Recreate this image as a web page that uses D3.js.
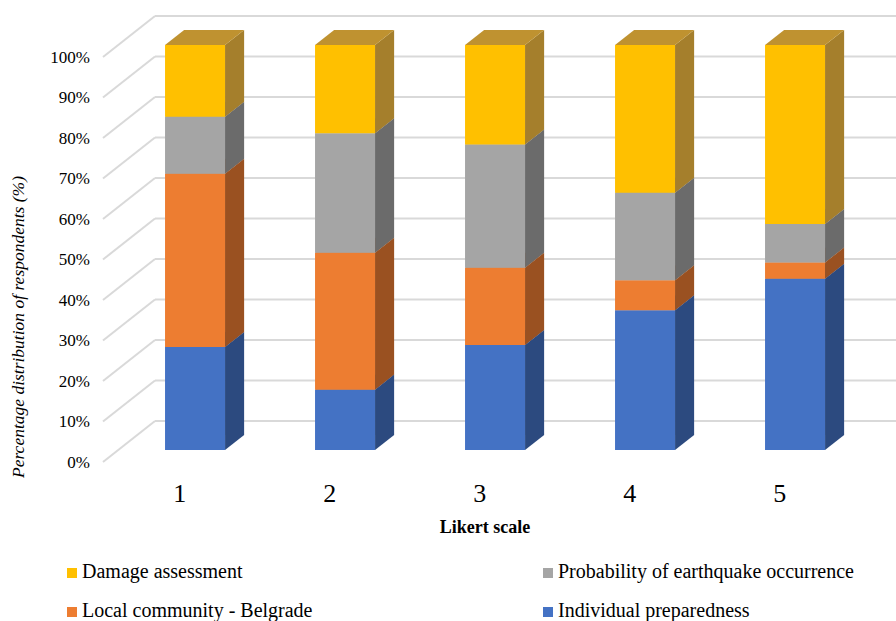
<!DOCTYPE html>
<html>
<head>
<meta charset="utf-8">
<style>
  body { margin: 0; background: #fff; }
  text { font-family: "Liberation Serif", "Times New Roman", serif; fill: #000; }
</style>
</head>
<body>
<svg width="896" height="621"></svg>
<script src="https://cdn.jsdelivr.net/npm/d3@7"></script>
<script>
// data (percent of respondents per Likert level)
const categories = ["1", "2", "3", "4", "5"];
const seriesNames = ["Individual preparedness", "Local community - Belgrade", "Probability of earthquake occurrence", "Damage assessment"];
const individual = [25.4, 14.9, 25.9, 34.5, 42.3];
const localCommunity = [42.8, 33.8, 19.1, 7.4, 4.0];
const probability = [14.1, 29.5, 30.4, 21.6, 9.5];
const damage = [17.7, 21.8, 24.6, 36.5, 44.2];
const yTicks = [0, 10, 20, 30, 40, 50, 60, 70, 80, 90, 100];

const colors = {
  "Individual preparedness": { front: "#4472C4", side: "#2C4A7F", top: "#3A62A8" },
  "Local community - Belgrade": { front: "#ED7D31", side: "#9A5121", top: "#C96A2A" },
  "Probability of earthquake occurrence": { front: "#A5A5A5", side: "#6B6B6B", top: "#8C8C8C" },
  "Damage assessment": { front: "#FFC000", side: "#A57F2C", top: "#BF9230" }
};

const svg = d3.select("svg");

// oblique 3d: depth z in [0,1] shifts right by DX, up by DY
const DX = 52, DY = 41;
const zFront = 0.293, zBack = 0.66;

const y = d3.scaleLinear().domain([0, 100]).range([462, 57]);
const x = d3.scaleBand().domain(categories).range([104.8, 854.8]).paddingInner(0.6).paddingOuter(0.3);

function P(xf, v, z) {
  return [xf + z * DX, y(v) - z * DY];
}

// back wall + side wall gridlines
const grid = svg.append("g");
yTicks.forEach(t => {
  const b = P(103, t, 1);
  grid.append("line")
    .attr("x1", b[0]).attr("y1", b[1])
    .attr("x2", 896).attr("y2", b[1])
    .attr("stroke", "#D9D9D9").attr("stroke-width", 2);
  grid.append("line")
    .attr("x1", 103).attr("y1", y(t))
    .attr("x2", b[0]).attr("y2", b[1])
    .attr("stroke", "#D9D9D9").attr("stroke-width", 2);
});

// y axis labels
const yAxis = svg.append("g")
  .attr("transform", "translate(90,0)")
  .call(d3.axisLeft(y).tickValues(yTicks).tickSize(0).tickPadding(0).tickFormat(d => d + "%"));
yAxis.select(".domain").remove();
yAxis.selectAll("text")
  .style("font-family", '"Liberation Serif", serif')
  .style("font-size", "17px").attr("fill", "#000");

// stacked bars
const rows = categories.map((c, i) => ({
  cat: c,
  "Individual preparedness": individual[i],
  "Local community - Belgrade": localCommunity[i],
  "Probability of earthquake occurrence": probability[i],
  "Damage assessment": damage[i]
}));
const stacked = d3.stack().keys(seriesNames)(rows);

const line = d3.line();
const bars = svg.append("g");
categories.forEach((c, i) => {
  const x0 = x(c), x1 = x(c) + x.bandwidth();
  stacked.forEach(s => {
    const v0 = s[i][0], v1 = s[i][1];
    const col = colors[s.key];
    const front = [P(x0, v0, zFront), P(x1, v0, zFront), P(x1, v1, zFront), P(x0, v1, zFront)];
    const side = [P(x1, v0, zFront), P(x1, v0, zBack), P(x1, v1, zBack), P(x1, v1, zFront)];
    const top = [P(x0, v1, zFront), P(x1, v1, zFront), P(x1, v1, zBack), P(x0, v1, zBack)];
    bars.append("path").attr("d", line(side) + "Z").attr("fill", col.side);
    bars.append("path").attr("d", line(top) + "Z").attr("fill", col.top);
    bars.append("path").attr("d", line(front) + "Z").attr("fill", col.front);
  });
});

// category labels
svg.append("g").selectAll("text")
  .data(categories)
  .join("text")
  .attr("x", d => x(d) + x.bandwidth() / 2)
  .attr("y", 502)
  .attr("text-anchor", "middle")
  .style("font-size", "26px")
  .text(d => d);

// axis titles
svg.append("text")
  .attr("x", 485).attr("y", 533)
  .attr("text-anchor", "middle")
  .style("font-size", "18px").style("font-weight", "bold")
  .text("Likert scale");

svg.append("text")
  .attr("transform", "translate(24,327) rotate(-90)")
  .attr("text-anchor", "middle")
  .style("font-size", "17.5px").style("font-style", "italic")
  .text("Percentage distribution of respondents (%)");

// legend
const legendItems = [
  { name: "Damage assessment", x: 67, y: 578 },
  { name: "Probability of earthquake occurrence", x: 543, y: 578 },
  { name: "Local community - Belgrade", x: 67, y: 617 },
  { name: "Individual preparedness", x: 543, y: 617 }
];
const legend = svg.append("g");
legendItems.forEach(it => {
  legend.append("rect")
    .attr("x", it.x).attr("y", it.y - 10)
    .attr("width", 10).attr("height", 10)
    .attr("fill", colors[it.name].front);
  legend.append("text")
    .attr("x", it.x + 15).attr("y", it.y)
    .style("font-size", "20px")
    .text(it.name);
});
</script>
</body>
</html>
